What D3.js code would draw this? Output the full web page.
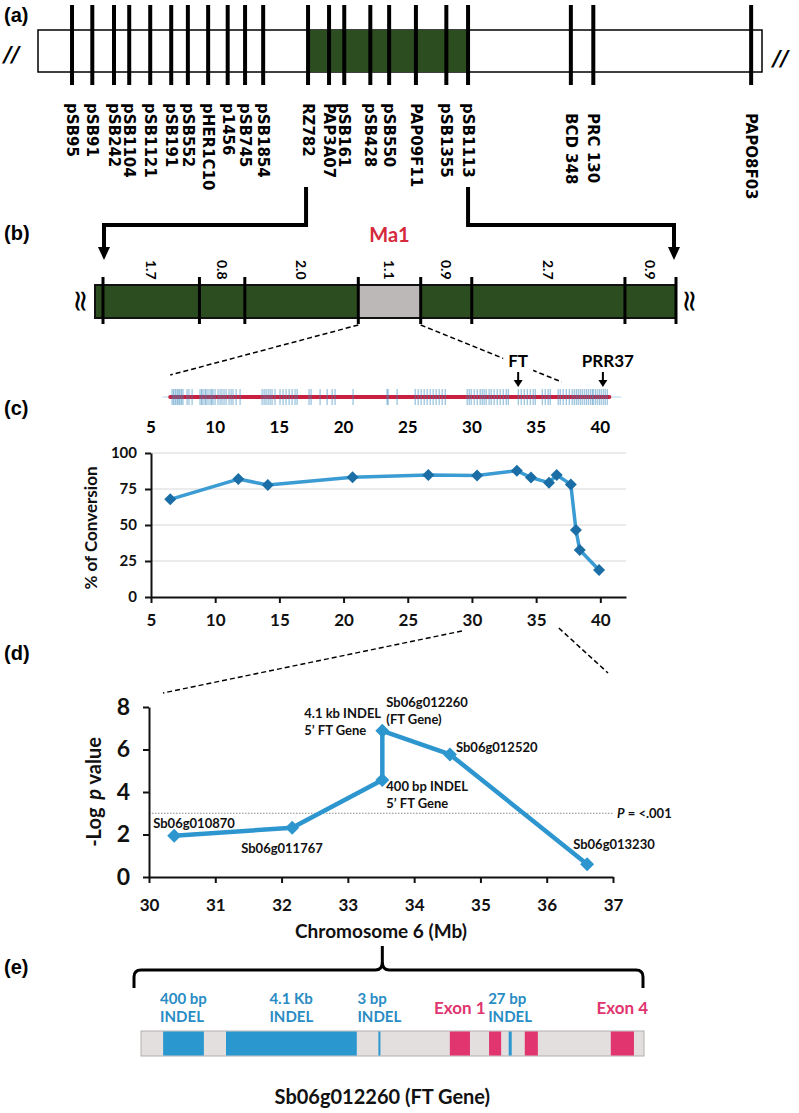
<!DOCTYPE html>
<html><head><meta charset="utf-8">
<script src="https://cdn.jsdelivr.net/npm/d3@7"></script>
<style>body{margin:0;background:#fff}svg{display:block}</style>
</head><body>
<svg id="chart" width="799" height="1113"></svg>
<script>
// ---------- DATA ----------
// (a) linkage map markers (relative map position, 0-100)
const markerNames = ["pSB95","pSB91","pSB242","pSB1104","pSB1121","pSB191","pSB552","pHER1C10","p1456","pSB745","pSB1854","RZ782","PAP3A07","pSB161","pSB428","pSB550","PAP09F11","pSB1355","pSB1113","BCD 348","PRC 130","PAPO8F03"];
const markerPos = [4.7,7.5,10.5,12.6,15.5,18.4,20.7,23.5,26.2,28.6,31.1,37.3,40.2,42.3,45.9,48.5,52.2,56.4,59.4,73.6,76.7,98.5];
const ma1Flank = ["RZ782","pSB1113"];
// (b) interval distances (cM)
const intervalCM = [1.7,0.8,2.0,1.1,0.9,2.7,0.9];
const ma1IntervalIndex = 3;
const ma1Label = "Ma1";
// chromosome track (Mb)
const trackRange = [6.5, 40.7];
const genePositions = [6.64,6.75,6.87,6.95,7.07,7.18,7.26,7.38,7.49,7.81,7.96,8.20,
 8.82,8.94,9.05,9.21,9.29,9.44,9.60,9.72,9.83,9.99,10.22,10.38,10.53,10.69,10.85,11.08,11.24,11.39,11.63,11.94,
 13.65,13.81,13.96,14.12,14.28,14.43,14.66,15.05,15.29,15.52,15.76,15.99,16.22,16.38,17.31,17.47,
 18.17,18.72,19.11,19.34,20.74,23.39,23.47,24.17,
 25.58,25.81,26.04,26.28,26.51,26.75,26.98,27.21,27.45,27.68,27.92,
 29.63,29.79,29.94,30.18,30.41,30.64,30.80,30.95,31.11,31.34,31.50,31.73,31.97,32.20,32.44,32.67,32.83,
 33.61,33.84,34.08,34.31,34.54,34.77,34.93,35.48,35.71,35.94,36.10,
 36.72,36.88,37.11,37.35,37.58,37.81,37.97,38.13,38.28,38.44,38.59,38.75,38.91,39.06,39.22,39.37,
 39.45,39.61,39.76,39.92,40.07,40.23,40.38,40.54];
const trackGeneNames = ["FT","PRR37"];
const trackGeneMb = [33.6, 40.2];
const mbTicks = [5,10,15,20,25,30,35,40];
// (c) % of conversion
const convMb  = [6.5,11.8,14.1,20.7,26.6,30.4,33.5,34.6,36.0,36.6,37.7,38.1,38.4,39.9];
const convPct = [67.8,81.9,77.8,83.1,84.7,84.3,87.7,82.9,79.4,84.7,78.2,46.5,32.6,18.8];
const convTicks = [0,25,50,75,100];
// (d) association
const assocMb   = [30.38,32.16,33.52,33.52,34.54,36.61];
const assocLogP = [1.94,2.32,4.56,6.88,5.77,0.60];
const assocNames = [["Sb06g010870"],["Sb06g011767"],["400 bp INDEL","5\u2019 FT Gene"],["Sb06g012260","(FT Gene)"],["Sb06g012520"],["Sb06g013230"]];
const extraLabel = ["4.1 kb INDEL","5\u2019 FT Gene"];
const pThreshold = 3;
const dXTicks = [30,31,32,33,34,35,36,37];
const dYTicks = [0,2,4,6,8];
// (e) FT gene schematic (relative units 0-100)
const featName  = ["400 bp INDEL","4.1 Kb INDEL","3 bp INDEL","Exon 1","Exon 2","27 bp INDEL","Exon 3","Exon 4"];
const featType  = ["indel","indel","indel","exon","exon","indel","exon","exon"];
const featStart = [4.4,16.9,47.2,61.4,69.2,73.1,76.3,93.4];
const featEnd   = [12.5,42.9,47.6,65.4,71.6,73.7,78.9,98.0];
const featLabels = [["400 bp","INDEL"],["4.1 Kb","INDEL"],["3 bp","INDEL"],["Exon 1"],null,["27 bp","INDEL"],null,["Exon 4"]];
const geneTitle = "Sb06g012260 (FT Gene)";

// ---------- DRAW ----------
const svg = d3.select("#chart");
const F = "Lato, 'Open Sans', sans-serif";
const green = "#2b4d1f";

function panelLabel(t, y){
  svg.append("text").attr("x",4).attr("y",y).text(t)
    .attr("font-family","'Liberation Sans', Arial, sans-serif").attr("font-weight","bold").attr("font-size",20);
}
panelLabel("(a)",22); panelLabel("(b)",240); panelLabel("(c)",415); panelLabel("(d)",660); panelLabel("(e)",974);

// ----- (a) -----
const xa = d3.scaleLinear([0,100],[38,762]);
const gA = svg.append("g");
gA.append("rect").attr("x",xa(0)).attr("y",30).attr("width",xa(100)-xa(0)).attr("height",42)
  .attr("fill","#fff").attr("stroke","#000").attr("stroke-width",1.5);
const fl0 = markerPos[markerNames.indexOf(ma1Flank[0])], fl1 = markerPos[markerNames.indexOf(ma1Flank[1])];
gA.append("rect").attr("x",xa(fl0)).attr("y",30).attr("width",xa(fl1)-xa(fl0)).attr("height",42).attr("fill",green);
gA.selectAll("line.m").data(markerPos).join("line").attr("class","m")
  .attr("x1",d=>xa(d)).attr("x2",d=>xa(d)).attr("y1",5).attr("y2",85)
  .attr("stroke","#000").attr("stroke-width",4);
gA.selectAll("text.m").data(markerNames).join("text").attr("class","m")
  .attr("transform",(d,i)=>`translate(${xa(markerPos[i])},${markerPos[i]>fl1?113:103}) rotate(90)`)
  .attr("dominant-baseline","central").attr("font-family","'DejaVu Sans', Verdana, sans-serif")
  .attr("font-weight","bold").attr("font-size",15).text(d=>d);
[[4,62],[773,66]].forEach(p=>{
  svg.append("text").attr("x",p[0]).attr("y",p[1]).text("//").attr("font-family","'DejaVu Sans', sans-serif")
   .attr("font-weight","bold").attr("font-size",21).attr("font-style","italic");
});

// ----- (b) -----
const cum = [0]; intervalCM.forEach(v=>cum.push(cum[cum.length-1]+v));
const xb = d3.scaleLinear([0,cum[cum.length-1]],[103,676]);
const bTop=285, bBot=318;
function arrow(xFrom, xTo){
  svg.append("path").attr("d",`M${xFrom},187 V225 H${xTo} V248`).attr("fill","none").attr("stroke","#000").attr("stroke-width",4);
  svg.append("path").attr("d",`M${xTo-6},247 L${xTo+6},247 L${xTo},260 Z`).attr("fill","#000");
}
arrow(xa(fl0)-2, xb(0)+1);
arrow(xa(fl1), xb(cum[cum.length-1])-2);
svg.append("rect").attr("x",xb(0)-8).attr("y",bTop).attr("width",xb(cum[cum.length-1])-xb(0)+8).attr("height",bBot-bTop)
  .attr("fill",green).attr("stroke","#111").attr("stroke-width",2);
svg.append("rect").attr("x",xb(cum[ma1IntervalIndex])).attr("y",bTop+1).attr("width",xb(cum[ma1IntervalIndex+1])-xb(cum[ma1IntervalIndex])).attr("height",bBot-bTop-2)
  .attr("fill","#bdb8b8");
svg.selectAll("line.div").data(cum).join("line").attr("class","div")
  .attr("x1",d=>xb(d)).attr("x2",d=>xb(d)).attr("y1",277).attr("y2",324).attr("stroke","#000").attr("stroke-width",3);
svg.selectAll("text.cm").data(intervalCM).join("text").attr("class","cm")
  .attr("transform",(d,i)=>`translate(${xb((cum[i]+cum[i+1])/2)},260) rotate(90)`)
  .attr("dominant-baseline","central").attr("font-family",F).attr("font-weight","bold").attr("font-size",14)
  .attr("fill","#000").text(d=>d.toFixed(1));
svg.append("text").attr("x",xb((cum[ma1IntervalIndex]+cum[ma1IntervalIndex+1])/2)).attr("y",242)
  .attr("text-anchor","middle").attr("font-family",F).attr("font-weight","bold").attr("font-size",20)
  .attr("fill","#d42a3c").text(ma1Label);
[xb(0)-22, xb(cum[cum.length-1])+14].forEach(x=>{
  svg.append("text").attr("transform",`translate(${x},301) rotate(90)`).attr("text-anchor","middle")
   .attr("dominant-baseline","central").attr("font-family","'DejaVu Sans', sans-serif").attr("font-size",30).text("\u2248");
});

// track
const xc = d3.scaleLinear([5,42],[151,626]);
const trackY = 397;
svg.append("line").attr("x1",xb(cum[ma1IntervalIndex])).attr("y1",325).attr("x2",xc(trackRange[0])).attr("y2",375)
  .attr("stroke","#000").attr("stroke-width",1.5).attr("stroke-dasharray","5,3");
svg.append("line").attr("x1",xb(cum[ma1IntervalIndex+1])).attr("y1",325).attr("x2",xc(37)).attr("y2",382)
  .attr("stroke","#000").attr("stroke-width",1.5).attr("stroke-dasharray","5,3");
svg.append("line").attr("x1",xc(trackRange[0])-8).attr("x2",xc(trackRange[1])+12).attr("y1",trackY).attr("y2",trackY)
  .attr("stroke","#b7d6e6").attr("stroke-width",1);
svg.append("line").attr("x1",xc(trackRange[0])).attr("x2",xc(trackRange[1])).attr("y1",trackY).attr("y2",trackY)
  .attr("stroke","#c8213f").attr("stroke-width",4).attr("stroke-linecap","round");
svg.selectAll("line.gene").data(genePositions).join("line").attr("class","gene")
  .attr("x1",d=>xc(d)).attr("x2",d=>xc(d)).attr("y1",389).attr("y2",405)
  .attr("stroke","#3d8dbf").attr("stroke-opacity",0.55).attr("stroke-width",1.2);
trackGeneNames.forEach((n,i)=>{
  const x = xc(trackGeneMb[i]);
  const lx = i===1 ? x+5 : x;
  if(i===0) svg.append("rect").attr("x",x-15).attr("y",350).attr("width",30).attr("height",22).attr("fill","#fff");
  svg.append("text").attr("x",lx).attr("y",367).attr("text-anchor","middle").attr("font-family",F)
    .attr("font-weight","bold").attr("font-size",17).text(n);
  svg.append("line").attr("x1",x).attr("x2",x).attr("y1",372).attr("y2",381).attr("stroke","#000").attr("stroke-width",2);
  svg.append("path").attr("d",`M${x-4.5},380 L${x+4.5},380 L${x},387 Z`).attr("fill","#000");
});
svg.selectAll("text.mb").data(mbTicks).join("text").attr("class","mb")
  .attr("x",d=>xc(d)).attr("y",433).attr("text-anchor","middle").attr("font-family",F)
  .attr("font-weight","bold").attr("font-size",17).text(d=>d);

// ----- (c) -----
const yc = d3.scaleLinear([0,100],[597,453]);
const gC = svg.append("g");
gC.selectAll("line.grid").data(convTicks.slice(1)).join("line").attr("class","grid")
  .attr("x1",xc(5)).attr("x2",xc(42)).attr("y1",d=>yc(d)).attr("y2",d=>yc(d)).attr("stroke","#e4e4e4").attr("stroke-width",1.5);
const axC_y = gC.append("g").attr("transform",`translate(${xc(5)},0)`)
  .call(d3.axisLeft(yc).tickValues(convTicks).tickSize(6).tickSizeOuter(0).tickPadding(8));
const axC_x = gC.append("g").attr("transform",`translate(0,${yc(0)})`)
  .call(d3.axisBottom(xc).tickValues(mbTicks).tickFormat(d3.format("d")).tickSize(6).tickSizeOuter(0).tickPadding(11));
[axC_y,axC_x].forEach(a=>{
  a.selectAll("text").attr("font-family",F).attr("font-weight","bold").attr("fill","#111");
  a.selectAll("path,line").attr("stroke","#111").attr("stroke-width",2);
});
axC_y.selectAll("text").attr("font-size",15);
axC_x.selectAll("text").attr("font-size",17);
gC.append("path").datum(convMb.map((m,i)=>[m,convPct[i]]))
  .attr("d",d3.line().x(d=>xc(d[0])).y(d=>yc(d[1])))
  .attr("fill","none").attr("stroke","#3b9bd3").attr("stroke-width",3.5).attr("stroke-linejoin","round");
gC.selectAll("path.pt").data(convMb).join("path").attr("class","pt")
  .attr("transform",(d,i)=>`translate(${xc(d)},${yc(convPct[i])}) rotate(45)`)
  .attr("d",d3.symbol(d3.symbolSquare,72)).attr("fill","#1b6ea5");
gC.append("text").attr("transform",`translate(90,528) rotate(-90)`).attr("text-anchor","middle")
  .attr("dominant-baseline","central").attr("font-family",F).attr("font-weight","bold").attr("font-size",17)
  .attr("fill","#111").text("% of Conversion");

// ----- (d) -----
const xd = d3.scaleLinear([30,37],[149,613]);
const yd = d3.scaleLinear([0,8],[877,707]);
svg.append("line").attr("x1",xc(30)-10).attr("y1",631).attr("x2",xd(30)+14).attr("y2",693)
  .attr("stroke","#000").attr("stroke-width",1.5).attr("stroke-dasharray","5,3");
svg.append("line").attr("x1",xc(37)-3).attr("y1",628).attr("x2",xd(37)-5).attr("y2",673)
  .attr("stroke","#000").attr("stroke-width",1.5).attr("stroke-dasharray","5,3");
const gD = svg.append("g");
gD.append("line").attr("x1",xd(30)).attr("x2",xd(37)).attr("y1",yd(pThreshold)).attr("y2",yd(pThreshold))
  .attr("stroke","#888").attr("stroke-width",1).attr("stroke-dasharray","1.5,1.5");
const tP = gD.append("text").attr("x",xd(37)+4).attr("y",yd(pThreshold)+5).attr("font-family",F)
  .attr("font-weight","bold").attr("font-size",13).attr("fill","#111");
tP.append("tspan").attr("font-style","italic").text("P");
tP.append("tspan").text(" = <.001");
const axD_y = gD.append("g").attr("transform",`translate(${xd(30)},0)`)
  .call(d3.axisLeft(yd).tickValues(dYTicks).tickFormat(d3.format("d")).tickSize(6).tickSizeOuter(0).tickPadding(13));
const axD_x = gD.append("g").attr("transform",`translate(0,${yd(0)})`)
  .call(d3.axisBottom(xd).tickValues(dXTicks).tickFormat(d3.format("d")).tickSize(6).tickSizeOuter(0).tickPadding(16));
[axD_y,axD_x].forEach(a=>{
  a.selectAll("text").attr("font-family",F).attr("font-weight","bold").attr("fill","#111");
  a.selectAll("path,line").attr("stroke","#111").attr("stroke-width",2);
});
axD_y.selectAll("text").attr("font-size",23);
axD_x.selectAll("text").attr("font-size",17);
gD.append("path").datum(assocMb.map((m,i)=>[m,assocLogP[i]]))
  .attr("d",d3.line().x(d=>xd(d[0])).y(d=>yd(d[1])))
  .attr("fill","none").attr("stroke","#2e96cf").attr("stroke-width",4.5).attr("stroke-linejoin","round");
gD.selectAll("path.pt").data(assocMb).join("path").attr("class","pt")
  .attr("transform",(d,i)=>`translate(${xd(d)},${yd(assocLogP[i])}) rotate(45)`)
  .attr("d",d3.symbol(d3.symbolSquare,98)).attr("fill","#2e96cf");
const labOff = [[-21,-8],[-51,25],[4,11],[4,-24],[6,-2],[-14,-15]];
function multiText(g,x,y,lines,size,fill,anchor){
  const t = g.append("text").attr("x",x).attr("y",y).attr("font-family",F).attr("font-weight","bold")
    .attr("font-size",size).attr("fill",fill).attr("text-anchor",anchor||"start");
  lines.forEach((l,k)=>t.append("tspan").attr("x",x).attr("dy",k?size*1.3:0).text(l));
  return t;
}
assocNames.forEach((lines,i)=>{
  multiText(gD, xd(assocMb[i])+labOff[i][0], yd(assocLogP[i])+labOff[i][1], lines, 13, "#111");
});
multiText(gD, xd(assocMb[3])-78, yd(assocLogP[3])-13, extraLabel, 13, "#111");
const yt = gD.append("text").attr("transform",`translate(93,792) rotate(-90)`).attr("text-anchor","middle")
  .attr("dominant-baseline","central").attr("font-family",F).attr("font-weight","bold").attr("font-size",20).attr("fill","#111");
yt.append("tspan").text("-Log ");
yt.append("tspan").attr("font-style","italic").attr("dx",3).text("p");
yt.append("tspan").text(" value");
gD.append("text").attr("x",381).attr("y",938).attr("text-anchor","middle").attr("font-family",F)
  .attr("font-weight","bold").attr("font-size",19).attr("fill","#111").text("Chromosome 6 (Mb)");

// ----- (e) -----
const xe = d3.scaleLinear([0,100],[141,644]);
const gE = svg.append("g");
const bx = xd(assocMb[3]);
const L = xe(0)-7, R = xe(100)-1;
gE.append("path").attr("d",`M${L},988 V977 Q${L},970 ${L+7},970 H${bx-7} Q${bx},970 ${bx},962 V946 M${bx},962 Q${bx},970 ${bx+7},970 H${R-7} Q${R},970 ${R},977 V988`)
  .attr("fill","none").attr("stroke","#000").attr("stroke-width",3);
gE.append("rect").attr("x",xe(0)).attr("y",1031).attr("width",xe(100)-xe(0)).attr("height",25)
  .attr("fill","#e4dfdf").attr("stroke","#b3aeae").attr("stroke-width",1);
gE.selectAll("rect.f").data(featStart).join("rect").attr("class","f")
  .attr("x",d=>xe(d)).attr("y",1031.5).attr("width",(d,i)=>Math.max(1.5,xe(featEnd[i])-xe(d))).attr("height",24)
  .attr("fill",(d,i)=>featType[i]==="exon"?"#e0356f":"#2a97cf");
featLabels.forEach((lines,i)=>{
  if(!lines) return;
  const mid = (xe(featStart[i])+xe(featEnd[i]))/2;
  if(featType[i]==="exon"){
    multiText(gE, mid, 1014, lines, 17, "#e0356f", "middle");
  } else {
    const t = multiText(gE, 0, 1004, lines, 15, "#2a8cc4", "start");
    t.selectAll("tspan").attr("dy",(d,k)=>k?18:0);
    const w = t.node().getBBox().width;
    t.selectAll("tspan").attr("x", mid - w/2);
  }
});
gE.append("text").attr("x",bx).attr("y",1104).attr("text-anchor","middle").attr("font-family",F)
  .attr("font-weight","bold").attr("font-size",20).attr("fill","#111").text(geneTitle);
</script>
</body></html>
